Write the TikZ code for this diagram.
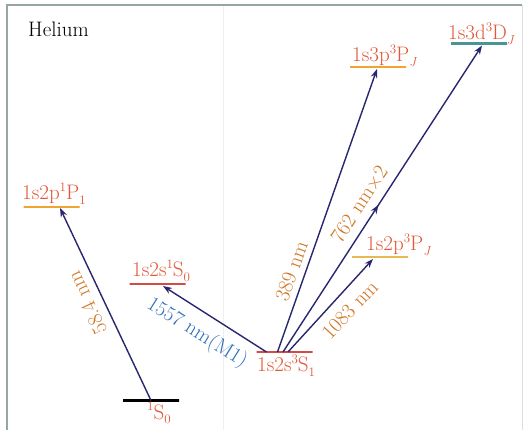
\documentclass[tikz,border=0pt]{standalone}
\usetikzlibrary{arrows.meta,decorations.markings}
\definecolor{framecol}{RGB}{150,166,163}
\definecolor{divcol}{RGB}{238,240,240}
\definecolor{lvltext}{RGB}{226,88,56}
\definecolor{wlorange}{RGB}{208,118,36}
\definecolor{wlblue}{RGB}{46,110,185}
\definecolor{arrowcol}{RGB}{40,38,110}
\definecolor{lvlorange}{RGB}{240,165,50}
\definecolor{lvlred}{RGB}{212,74,70}
\definecolor{lvlyellow}{RGB}{232,185,80}
\definecolor{lvlteal}{RGB}{70,150,150}
\newcommand{\lsup}[1]{\raisebox{0.4em}{\fontsize{13}{13}\selectfont #1}}
\newcommand{\lsub}[1]{\raisebox{-0.22em}{\fontsize{13}{13}\selectfont #1}}
\tikzset{
  lvl/.style={shape=rectangle, draw=#1, line width=2.4pt, minimum width=56pt,
    minimum height=0pt, inner sep=0pt, outer sep=0pt},
  bigfont/.style={font=\fontsize{21}{25}\selectfont},
  lvltxt/.style={bigfont, text=lvltext, inner sep=0pt, anchor=base west},
  wl/.style={bigfont, text=wlorange, inner sep=0pt},
  trans/.style={draw=arrowcol, line width=1.4pt, -{Stealth[length=9pt,width=6.5pt]}},
  midarrow/.style={postaction={decorate, decoration={markings,
    mark=at position #1 with {\arrow{Stealth[length=9pt,width=6.5pt]}}}}},
}
\begin{document}
\begin{tikzpicture}[x=1pt,y=1pt]
\useasboundingbox (0,0) rectangle (525,-430);
\fill[white] (0,0) rectangle (525,-430);
% frame
\draw[divcol, line width=1pt] (223,-5) -- (223,-430);
\draw[framecol!35, line width=0.8pt] (522,-5) -- (522,-430);
\draw[framecol, line width=2.5pt] (7,-430) -- (7,-5) -- (522,-5);

\node[bigfont, inner sep=0pt, anchor=base west] (title) at (28,-37) {Helium};

% levels
\node[lvl=black]      (g)  at (151,-400.5) {};
\node[lvl=lvlorange]  (p1) at (51.5,-207) {};
\node[lvl=lvlred]     (s1) at (157.5,-284) {};
\node[lvl=lvlred]     (t)  at (284.5,-352) {};
\node[lvl=lvlyellow]  (p3) at (380,-257) {};
\node[lvl=lvlorange]  (q3) at (378,-67) {};
\node[lvl=lvlteal]    (d3) at (479,-43.5) {};

% level labels
\node[lvltxt] (lg)  at (147,-419) {\lsup{1}S\lsub{0}};
\node[lvltxt] (lp1) at (22,-200) {1s2p\lsup{1}P\lsub{1}};
\node[lvltxt] (ls1) at (132,-277) {1s2s\lsup{1}S\lsub{0}};
\node[lvltxt] (lt)  at (257,-372) {1s2s\lsup{3}S\lsub{1}};
\node[lvltxt] (lp3) at (366,-251) {1s2p\lsup{3}P\lsub{\itshape J}};
\node[lvltxt] (lq3) at (352,-62) {1s3p\lsup{3}P\lsub{\itshape J}};
\node[lvltxt] (ld3) at (448,-40) {1s3d\lsup{3}D\lsub{\itshape J}};

% transitions
\draw[trans] (g.center) -- ([xshift=8.5pt,yshift=-1pt]p1.center);
\draw[trans] ([xshift=-18pt]t.center) -- ([xshift=5.5pt,yshift=-2pt]s1.center);
\draw[trans] ([xshift=-7pt]t.center) -- ([xshift=-1pt,yshift=-2pt]q3.center);
\draw[trans, midarrow=0.48] ([xshift=-1.5pt]t.center) -- ([xshift=3pt,yshift=-2pt]d3.center);
\draw[trans] ([xshift=3.5pt]t.center) -- ([xshift=-7pt,yshift=-2pt]p3.center);

% wavelength labels
\node[wl, rotate=115.2] (w58) at (87,-303) {58.4 nm};
\node[bigfont, text=wlblue, inner sep=0pt, rotate=-32] (w1557) at (197,-333) {1557 nm(M1)};
\node[wl, rotate=70.5] (w389) at (291.5,-271) {389 nm};
\node[wl, rotate=57] (w762) at (359,-204) {762 nm×2};
\node[wl, rotate=47.3] (w1083) at (350,-310) {1083 nm};
\end{tikzpicture}
\end{document}
